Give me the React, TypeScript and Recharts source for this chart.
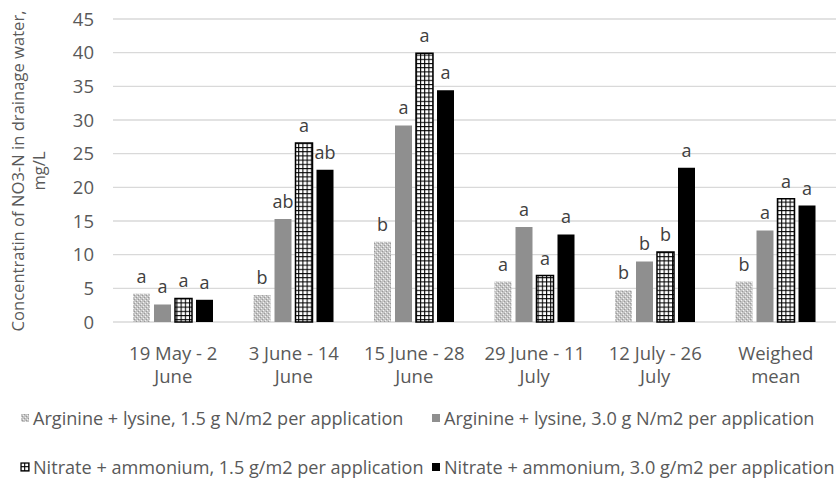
import React from "react";
import { BarChart, Bar, XAxis, YAxis, CartesianGrid, LabelList, Legend } from "recharts";

const periods = [
	"19 May - 2 June",
	"3 June - 14 June",
	"15 June - 28 June",
	"29 June - 11 July",
	"12 July - 26 July",
	"Weighed mean"
];

const argLow = [4.2, 4.0, 11.9, 6.0, 4.7, 6.0];
const argHigh = [2.6, 15.3, 29.2, 14.1, 9.0, 13.6];
const nitLow = [3.5, 26.6, 39.9, 6.9, 10.4, 18.3];
const nitHigh = [3.3, 22.6, 34.4, 13.0, 22.9, 17.3];

const argLowSig = ["a", "b", "b", "a", "b", "b"];
const argHighSig = ["a", "ab", "a", "a", "b", "a"];
const nitLowSig = ["a", "a", "a", "a", "b", "a"];
const nitHighSig = ["a", "ab", "a", "a", "a", "a"];

const yTicks = [0, 5, 10, 15, 20, 25, 30, 35, 40, 45];

const seriesNames = [
	"Arginine + lysine, 1.5 g N/m2 per application",
	"Arginine + lysine, 3.0 g N/m2 per application",
	"Nitrate + ammonium, 1.5 g/m2 per application",
	"Nitrate + ammonium, 3.0 g/m2 per application"
];

const data = periods.map((p, i) => ({
	period: p,
	argLow: argLow[i],
	argHigh: argHigh[i],
	nitLow: nitLow[i],
	nitHigh: nitHigh[i],
	argLowSig: argLowSig[i],
	argHighSig: argHighSig[i],
	nitLowSig: nitLowSig[i],
	nitHighSig: nitHighSig[i]
}));

const FONT = "'Open Sans', sans-serif";
const TEXT = "#595959";

const fills = ["url(#dotFill)", "#8f8f8f", "url(#gridFill)", "#000000"];

function XTick(props: any) {
	const { x, y, payload } = props;
	const s: string = payload.value;
	const cut = s.lastIndexOf(" ");
	return (
		<text x={x} textAnchor="middle" fill={TEXT} fontFamily={FONT} fontSize={18.5}>
			<tspan x={x} y={y + 38}>{s.slice(0, cut)}</tspan>
			<tspan x={x} y={y + 61}>{s.slice(cut + 1)}</tspan>
		</text>
	);
}

function YTick(props: any) {
	const { x, y, payload } = props;
	return (
		<text x={x} y={y} dy={6.5} textAnchor="end" fill={TEXT} fontFamily={FONT} fontSize={18.5}>
			{payload.value}
		</text>
	);
}

function SigLabel(props: any) {
	const { x, y, width, value } = props;
	return (
		<text x={x + width / 2} y={y - 11} textAnchor="middle" fill="#404040" fontFamily={FONT} fontSize={18}>
			{value}
		</text>
	);
}

function LegendIcon({ i }: { i: number }) {
	return (
		<svg width={10} height={10} style={{ position: "absolute", left: -13, top: -5 }}>
			<rect x={1} y={1} width={8} height={8} fill={fills[i]} stroke={i === 2 ? "#000" : "none"} strokeWidth={1.2} />
		</svg>
	);
}

function LegendBox() {
	const pos = [
		{ left: 33, top: 418 },
		{ left: 444, top: 418 },
		{ left: 33, top: 467 },
		{ left: 444, top: 467 }
	];
	return (
		<div style={{ position: "relative", width: 839, height: 478 }}>
			{seriesNames.map((n, i) => (
				<div
					key={n}
					style={{
						position: "absolute",
						left: pos[i].left,
						top: pos[i].top,
						fontFamily: FONT,
						fontSize: 18.1,
						color: TEXT,
						whiteSpace: "nowrap",
						lineHeight: "0px"
					}}
				>
					<LegendIcon i={i} />
					{n}
				</div>
			))}
		</div>
	);
}

export default function App() {
	return (
		<div style={{ position: "absolute", left: 0, top: 0, background: "#fff" }}>
			<BarChart
				width={839}
				height={478}
				data={data}
				margin={{ top: 19, right: 3, left: 0, bottom: 0 }}
				barCategoryGap={20}
				barGap={4}
			>
				<defs>
					<pattern id="dotFill" width={4} height={4} patternUnits="userSpaceOnUse">
						<rect width={4} height={4} fill="#c4c4c4" />
						<rect x={1} y={0} width={1} height={1} fill="#f2f2f2" />
						<rect x={3} y={2} width={1} height={1} fill="#f2f2f2" />
						<rect x={0} y={1} width={1} height={1} fill="#9a9a9a" />
						<rect x={2} y={3} width={1} height={1} fill="#9a9a9a" />
					</pattern>
					<pattern id="gridFill" width={4.2} height={4.2} patternUnits="userSpaceOnUse">
						<rect width={4.2} height={4.2} fill="#ffffff" />
						<path d="M0 0.5 H4.2 M0.5 0 V4.2" stroke="#000" strokeWidth={1.1} />
					</pattern>
				</defs>
				<CartesianGrid vertical={false} stroke="#d9d9d9" strokeWidth={1.3} />
				<XAxis
					dataKey="period"
					height={156}
					axisLine={false}
					tickLine={false}
					tickSize={0}
					tickMargin={0}
					interval={0}
					tick={<XTick />}
				/>
				<YAxis
					width={113}
					domain={[0, 45]}
					ticks={yTicks}
					axisLine={false}
					tickLine={false}
					tickSize={0}
					tickMargin={19}
					tick={<YTick />}
					label={{
						content: () => (
							<text
								transform="translate(24 171) rotate(-90)"
								textAnchor="middle"
								fill={TEXT}
								fontFamily={FONT}
								fontSize={16.6}
							>
								<tspan x={0} y={0}>Concentratin of NO3-N in drainage water,</tspan>
								<tspan x={0} y={21}>mg/L</tspan>
							</text>
						)
					}}
				/>
				<Legend
					layout="vertical"
					align="center"
					verticalAlign="middle"
					content={() => <LegendBox />}
					wrapperStyle={{ position: "absolute", left: 0, top: 0, width: 839, height: 478, pointerEvents: "none" }}
				/>
				<Bar dataKey="argLow" name={seriesNames[0]} fill={fills[0]} isAnimationActive={false}>
					<LabelList dataKey="argLowSig" content={<SigLabel />} />
				</Bar>
				<Bar dataKey="argHigh" name={seriesNames[1]} fill={fills[1]} isAnimationActive={false}>
					<LabelList dataKey="argHighSig" content={<SigLabel />} />
				</Bar>
				<Bar dataKey="nitLow" name={seriesNames[2]} fill={fills[2]} stroke="#000" strokeWidth={1.5} isAnimationActive={false}>
					<LabelList dataKey="nitLowSig" content={<SigLabel />} />
				</Bar>
				<Bar dataKey="nitHigh" name={seriesNames[3]} fill={fills[3]} isAnimationActive={false}>
					<LabelList dataKey="nitHighSig" content={<SigLabel />} />
				</Bar>
			</BarChart>
		</div>
	);
}
